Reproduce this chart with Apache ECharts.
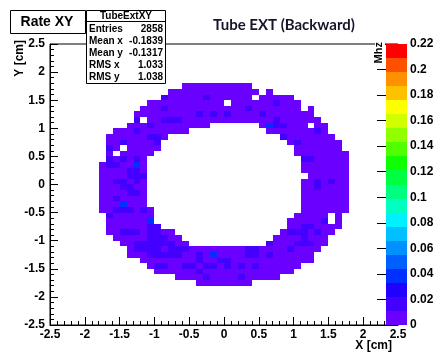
<!DOCTYPE html>
<html>
<head>
<meta charset="utf-8">
<script src="https://cdn.jsdelivr.net/npm/echarts@6/dist/echarts.min.js"></script>
<style>
  html, body { margin: 0; padding: 0; background: #fff; }
  #chart { width: 440px; height: 352px; }
</style>
</head>
<body>
<div id="chart"></div>
<script>
// histogram binning
const X_RANGE = [-2.5, 2.5];
const Y_RANGE = [-2.5, 2.5];
const BIN = 0.1;
const FIRST_COL = 7;   // bin index of the first character of each row
const TOP_ROW = 42;    // bin index of the first row below

// occupied bins, top row first, run-length coded
// '.' empty, 'a' violet, 'b' blue-violet, 'c' blue
const ROWS = [
  "12. 10a 14.",
  "10. 13a . a 11.",
  "9. b 5a b 6a . 5a 8.",
  "7. 11a . 6a b 3a 7.",
  "6. 3a b 11a b 7a . a 5.",
  "5. 9a b a b a b 4a b 7a 5.",
  "5. b . 2a 3b 13a b 6a 4.",
  "4. 3a b 8a 7. a c 2b 3a . 2a 3.",
  "2. 3a b 7a 11. 7a b a 3.",
  ". 6a 2b a 16. b 7a 2.",
  ". 2a b 4a b 18. a b 6a .",
  ". b a . 5a 19. 7a .",
  ". a . 5a 20. 8a",
  ". b a b a b a 22. 2b 5a",
  "a 2b 2a c a 22. 7a",
  "4a 2b a 22. 7a",
  "4a 3b 23. 6a",
  "2a 2b a b a 22. 2a b a b 2a",
  "3a 2b 2a 22. 2a b 4a",
  "4a 2b a 22. 7a",
  "2a b 4a 22. 7a",
  "3a c 3a 22. 7a",
  "2a 3b a b a 21. 7a",
  ". b 6a 20. 5a . a .",
  ". 6a c 19. 5a b . a .",
  ". 6a 2b 18. 2a 2b 4a .",
  ". 2a 3b a 2b 2a 15. a 3b a b 2a 2.",
  "2. 5a 3b 2a 13. 4a b 3a 3.",
  "3. 2a 6b 2a 11. b 3a 3b 2a 3.",
  "4. a 4b a 3b 8a 2b 4a b 4a 4.",
  "4. 3a 5b 2a b a c 4a 2b a b 6a 5.",
  "6. 8a b 2a 2b 12a 5.",
  "7. a 2b 2a 2b a 2b a b a b a b 6a 7.",
  "8. 6a b 13a 8.",
  "11. 4a b 4a b 5a 10.",
  "14. 8a 14."
];
const LEVELS = { a: 0.006, b: 0.016, c: 0.036 };   // Mhz per bin

const Z_MAX = 0.22;
const PALETTE = [
  '#6a00ff', '#4400ff', '#2200ff', '#0030ff', '#0060ff',
  '#0090ff', '#00c0ff', '#00f0ff', '#00ffc0', '#00ff80',
  '#00ff40', '#10ff00', '#50ff00', '#90ff00', '#d0ff00',
  '#ffff00', '#ffc000', '#ff9000', '#ff5000', '#ff0000'
];

const STAT_NAMES = ['Entries', 'Mean x', 'Mean y', 'RMS x', 'RMS y'];
const STAT_VALUES = ['2858', '-0.1839', '-0.1317', '1.033', '1.038'];

const cells = [];
ROWS.forEach((row, i) => {
  const r = TOP_ROW - i;
  let c = FIRST_COL;
  row.split(' ').forEach(tok => {
    const m = tok.match(/^(\d*)([.abc])$/);
    const n = m[1] ? +m[1] : 1;
    for (let j = 0; j < n; j++, c++) {
      if (m[2] !== '.') cells.push([X_RANGE[0] + c * BIN, Y_RANGE[0] + r * BIN, LEVELS[m[2]]]);
    }
  });
});

const step = Z_MAX / PALETTE.length;
const bands = PALETTE.map((col, i) => [0, i * step, (i + 0.5) * step, (i + 1) * step]);
const pieces = PALETTE.map((col, i) => ({ gte: i * step, lt: (i + 1) * step, color: col }));

const LBL = { color: '#000', fontFamily: '"Liberation Sans", Arial, sans-serif', fontWeight: 'bold', fontSize: 12 };
const BLACK = { color: '#000', width: 1 };

function cellItem(params, api) {
  const a = api.coord([api.value(0), api.value(1)]);
  const b = api.coord([api.value(0) + BIN, api.value(1) + BIN]);
  const x0 = Math.round(a[0]), x1 = Math.round(b[0]);
  const y0 = Math.round(b[1]), y1 = Math.round(a[1]);
  return { type: 'rect', shape: { x: x0, y: y0, width: x1 - x0, height: y1 - y0 }, style: { fill: api.visual('color') } };
}

function bandItem(params, api) {
  const a = api.coord([0, api.value(1)]);
  const b = api.coord([1, api.value(3)]);
  const y0 = Math.round(b[1]), y1 = Math.round(a[1]);
  return { type: 'rect', shape: { x: a[0], y: y0, width: b[0] - a[0], height: y1 - y0 }, style: { fill: api.visual('color') } };
}

function text(x, y, str, size, align, extra) {
  return Object.assign({
    type: 'text', x: x, y: y, z: 100,
    style: {
      text: str, fill: '#000',
      font: 'bold ' + size + 'px "Liberation Sans", Arial, sans-serif',
      align: align, verticalAlign: 'middle', textAlign: align, textVerticalAlign: 'middle'
    }
  }, extra || {});
}

const graphics = [
  { type: 'rect', z: 99, shape: { x: 375, y: 40, width: 10, height: 7 }, style: { fill: '#fff' } },
  text(379, 42, 'Mhz', 11, 'right', { rotation: Math.PI / 2 }),
  text(20, 40, 'Y [cm]', 12, 'right', { rotation: Math.PI / 2 }),
  text(392, 346, 'X [cm]', 12, 'right'),
  {
    type: 'text', x: 284, y: 25, z: 100,
    style: {
      text: 'Tube EXT (Backward)', fill: '#16162a',
      font: 'bold 15px Lato, sans-serif',
      align: 'center', verticalAlign: 'middle', textAlign: 'center', textVerticalAlign: 'middle'
    }
  },
  { type: 'rect', z: 99, shape: { x: 10.5, y: 10.5, width: 75, height: 23 }, style: { fill: '#fff', stroke: '#000', lineWidth: 1 } },
  text(47, 22, 'Rate XY', 14, 'center'),
  { type: 'rect', z: 99, shape: { x: 86.5, y: 10.5, width: 79, height: 73 }, style: { fill: '#fff', stroke: '#000', lineWidth: 1 } },
  { type: 'line', z: 100, shape: { x1: 86.5, y1: 21.5, x2: 165.5, y2: 21.5 }, style: { stroke: '#000', lineWidth: 1 } },
  text(126, 16, 'TubeExtXY', 10, 'center')
];
STAT_NAMES.forEach((name, i) => {
  graphics.push(text(89, 29 + 12 * i, name, 10, 'left'));
  graphics.push(text(163, 29 + 12 * i, STAT_VALUES[i], 10, 'right'));
});

const chart = echarts.init(document.getElementById('chart'));
chart.setOption({
  animation: false,
  backgroundColor: '#fff',
  grid: [
    { left: 50, top: 44, width: 348, height: 281, show: true, borderColor: '#000', borderWidth: 1, backgroundColor: 'transparent' },
    { left: 386, top: 44, width: 21, height: 281 }
  ],
  xAxis: [
    {
      gridIndex: 0, type: 'value', min: X_RANGE[0], max: X_RANGE[1], interval: 0.5,
      axisLine: { show: true, onZero: false, lineStyle: BLACK },
      axisTick: { inside: true, length: 8, lineStyle: BLACK },
      minorTick: { show: true, splitNumber: 5, length: 4, lineStyle: BLACK },
      splitLine: { show: false },
      axisLabel: Object.assign({ margin: 4 }, LBL)
    },
    { gridIndex: 1, type: 'value', min: 0, max: 1, show: false }
  ],
  yAxis: [
    {
      gridIndex: 0, type: 'value', min: Y_RANGE[0], max: Y_RANGE[1], interval: 0.5,
      axisLine: { show: true, onZero: false, lineStyle: BLACK },
      axisTick: { inside: true, length: 8, lineStyle: BLACK },
      minorTick: { show: true, splitNumber: 5, length: 4, lineStyle: BLACK },
      splitLine: { show: false },
      axisLabel: Object.assign({ margin: 5 }, LBL)
    },
    {
      gridIndex: 1, type: 'value', position: 'right', min: 0, max: Z_MAX, interval: 0.02,
      axisLine: { show: false },
      axisTick: { show: true, inside: true, length: 9, lineStyle: BLACK },
      splitLine: { show: false },
      axisLabel: Object.assign({ margin: 3 }, LBL)
    }
  ],
  visualMap: { type: 'piecewise', show: false, dimension: 2, seriesIndex: [0, 1], pieces: pieces },
  series: [
    { type: 'custom', xAxisIndex: 0, yAxisIndex: 0, data: cells, encode: { x: 0, y: 1 }, clip: true, renderItem: cellItem },
    { type: 'custom', xAxisIndex: 1, yAxisIndex: 1, data: bands, encode: { x: 0, y: [1, 3] }, z: 5, renderItem: bandItem }
  ],
  graphic: graphics
});
</script>
</body>
</html>
